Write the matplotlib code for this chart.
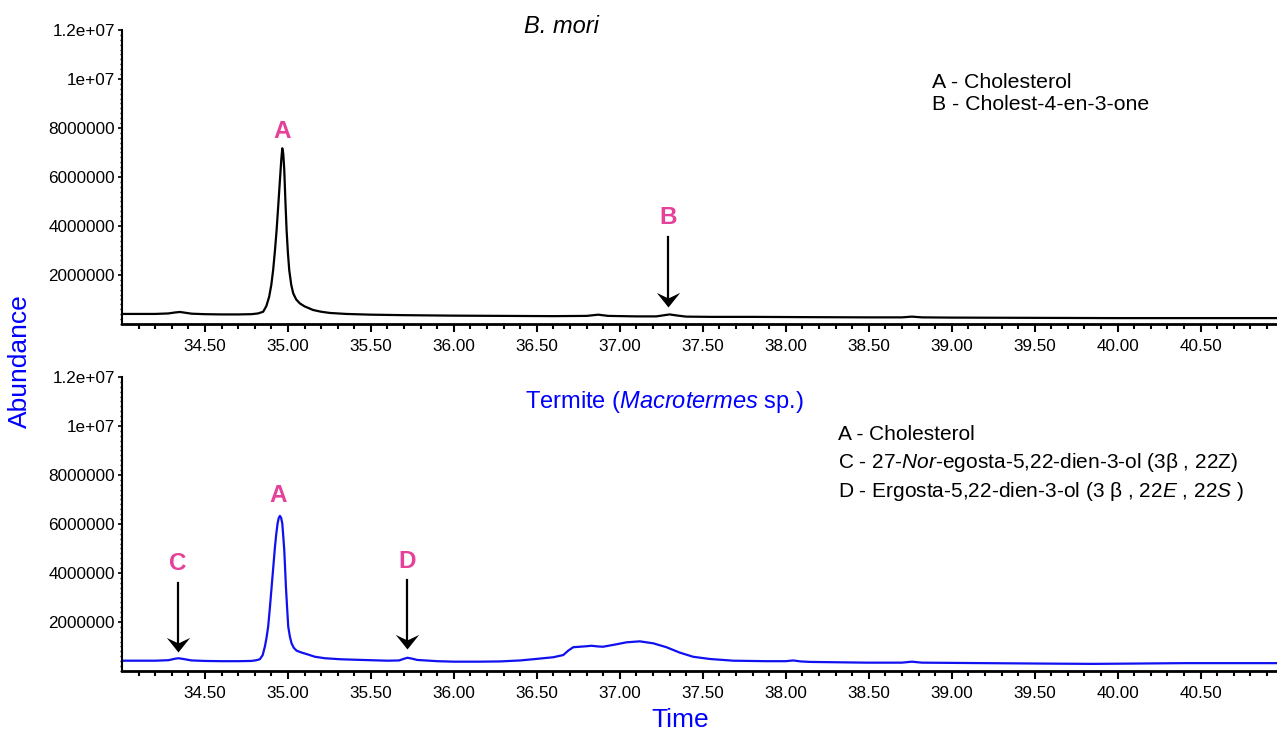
import matplotlib
matplotlib.use("Agg")
import matplotlib.pyplot as plt  # noqa: E402
from matplotlib.path import Path  # noqa: E402
from matplotlib.ticker import FixedLocator, MultipleLocator  # noqa: E402
import numpy as np  # noqa: E402

plt.rcParams["font.family"] = ["Liberation Sans", "DejaVu Sans"]
plt.rcParams["mathtext.fontset"] = "custom"
plt.rcParams["mathtext.rm"] = "Liberation Sans"
plt.rcParams["mathtext.it"] = "Liberation Sans:italic"

# B. mori chromatogram (time in min, abundance)
mori_time = [34.00, 34.10, 34.20, 34.28, 34.32, 34.35, 34.38, 34.42, 34.50, 34.60,
             34.70, 34.78, 34.82, 34.851, 34.870, 34.887, 34.900, 34.911, 34.922,
             34.932, 34.942, 34.952, 34.960, 34.966, 34.972, 34.978, 34.985, 34.992,
             35.000, 35.008, 35.020, 35.032, 35.050, 35.072, 35.10, 35.152, 35.20,
             35.253, 35.35, 35.50, 35.70, 36.00, 36.30, 36.60, 36.80, 36.87, 36.93,
             37.10, 37.22, 37.27, 37.30, 37.34, 37.40, 37.55, 37.80, 38.10, 38.50,
             38.70, 38.76, 38.82, 39.00, 39.50, 40.00, 40.50, 40.96]
mori_abund = [4.1e5, 4.1e5, 4.1e5, 4.3e5, 4.7e5, 4.9e5, 4.6e5, 4.2e5, 4.0e5, 3.9e5,
              3.9e5, 4.0e5, 4.3e5, 5.0e5, 7.3e5, 1.11e6, 1.6e6, 2.2e6, 3.0e6,
              3.84e6, 4.85e6, 5.88e6, 6.7e6, 7.17e6, 6.95e6, 6.29e6, 5.0e6, 3.84e6,
              2.9e6, 2.2e6, 1.6e6, 1.25e6, 1.0e6, 8.4e5, 7.2e5, 5.7e5, 5.0e5,
              4.5e5, 4.1e5, 3.8e5, 3.6e5, 3.4e5, 3.3e5, 3.2e5, 3.3e5, 3.8e5, 3.3e5,
              3.1e5, 3.1e5, 3.6e5, 3.9e5, 3.5e5, 3.0e5, 2.9e5, 2.9e5, 2.8e5, 2.7e5,
              2.7e5, 3.0e5, 2.7e5, 2.6e5, 2.5e5, 2.4e5, 2.4e5, 2.4e5]

# Termite (Macrotermes sp.) chromatogram
termite_time = [34.00, 34.10, 34.20, 34.28, 34.32, 34.34, 34.37, 34.42, 34.50, 34.60,
                34.70, 34.78, 34.81, 34.831, 34.848, 34.861, 34.871, 34.881, 34.891,
                34.902, 34.912, 34.922, 34.930, 34.938, 34.945, 34.952, 34.959, 34.966,
                34.972, 34.978, 34.983, 34.988, 34.995, 35.002, 35.012, 35.022, 35.035,
                35.052, 35.083, 35.113, 35.163, 35.223, 35.313, 35.40, 35.50, 35.60,
                35.67, 35.70, 35.72, 35.75, 35.78, 35.90, 36.00, 36.15, 36.277, 36.40,
                36.478, 36.598, 36.659, 36.689, 36.719, 36.759, 36.80, 36.829, 36.87,
                36.899, 36.94, 36.980, 37.040, 37.120, 37.201, 37.281, 37.361, 37.442,
                37.542, 37.683, 37.884, 38.00, 38.044, 38.09, 38.145, 38.486, 38.70,
                38.76, 38.82, 39.20, 39.60, 39.85, 40.05, 40.40, 40.96]
termite_abund = [4.2e5, 4.2e5, 4.2e5, 4.4e5, 5.0e5, 5.2e5, 4.9e5, 4.3e5, 4.1e5, 4.0e5,
                 4.0e5, 4.1e5, 4.4e5, 4.8e5, 6.5e5, 9.9e5, 1.35e6, 1.81e6, 2.55e6,
                 3.44e6, 4.25e6, 5.07e6, 5.6e6, 6.03e6, 6.25e6, 6.33e6, 6.25e6, 6.03e6,
                 5.5e6, 4.94e6, 4.2e6, 3.44e6, 2.6e6, 1.81e6, 1.4e6, 1.13e6, 9.5e5,
                 8.3e5, 7.5e5, 6.9e5, 5.8e5, 5.2e5, 4.8e5, 4.6e5, 4.4e5, 4.2e5,
                 4.3e5, 5.0e5, 5.4e5, 5.0e5, 4.5e5, 4.0e5, 3.8e5, 3.8e5, 3.9e5, 4.3e5,
                 4.8e5, 5.6e5, 6.5e5, 8.3e5, 9.7e5, 9.9e5, 1.01e6, 1.03e6, 1.0e6,
                 9.9e5, 1.04e6, 1.09e6, 1.17e6, 1.21e6, 1.13e6, 9.7e5, 7.5e5, 5.8e5,
                 4.9e5, 4.2e5, 4.0e5, 4.0e5, 4.3e5, 3.9e5, 3.7e5, 3.4e5, 3.4e5,
                 3.8e5, 3.4e5, 3.2e5, 3.0e5, 2.9e5, 3.0e5, 3.2e5, 3.2e5]

# peak labels: letter, time, label bottom, arrow start, arrow tip (None = no arrow)
mori_peaks = [("A", 34.966, 7.38e6, None, None),
              ("B", 37.29, 3.88e6, 3.55e6, 7.0e5)]
termite_peaks = [("C", 34.339, 3.92e6, 3.6e6, 7.9e5),
                 ("A", 34.942, 6.7e6, None, None),
                 ("D", 35.719, 3.99e6, 3.71e6, 8.9e5)]

mori_legend = ["A - Cholesterol", "B - Cholest-4-en-3-one"]
termite_legend = ["A - Cholesterol",
                  r"C - 27-$\it{Nor}$-egosta-5,22-dien-3-ol (3β , 22Z)",
                  r"D - Ergosta-5,22-dien-3-ol (3 β , 22$\it{E}$ , 22$\it{S}$ )"]

x_major = [34.5, 35.0, 35.5, 36.0, 36.5, 37.0, 37.5, 38.0, 38.5, 39.0, 39.5, 40.0, 40.5]
y_major = [2e6, 4e6, 6e6, 8e6, 1e7, 1.2e7]
y_labels = ["2000000", "4000000", "6000000", "8000000", "1e+07", "1.2e+07"]

PINK = "#E5409A"
# arrow head with a swept-back notch, tip at the origin pointing down
HEAD = Path([(0, 0), (-0.8, 1.0), (0, 0.62), (0.8, 1.0), (0, 0)],
            [Path.MOVETO, Path.LINETO, Path.LINETO, Path.LINETO, Path.CLOSEPOLY])


def style_axis(ax):
    ax.set_xlim(34.0, 40.96)
    ax.set_ylim(0, 1.2e7)
    ax.spines["top"].set_visible(False)
    ax.spines["right"].set_visible(False)
    ax.spines["bottom"].set_linewidth(2.0)
    ax.spines["left"].set_linewidth(1.5)
    ax.set_xticks(x_major)
    ax.set_xticklabels([f"{v:.2f}" for v in x_major])
    minor = [round(v, 1) for v in np.arange(34.1, 40.95, 0.1)]
    ax.xaxis.set_minor_locator(FixedLocator([v for v in minor if v not in x_major]))
    ax.set_yticks(y_major)
    ax.set_yticklabels(y_labels)
    ax.yaxis.set_minor_locator(MultipleLocator(2e5))
    ax.tick_params(axis="x", which="major", length=6, width=1.5, pad=5, labelsize=12.3)
    ax.tick_params(axis="x", which="minor", length=3.5, width=1.5)
    ax.tick_params(axis="y", which="major", length=3, width=1.2, pad=2, labelsize=12.3)
    ax.tick_params(axis="y", which="minor", length=1.5, width=1)


def draw_peaks(ax, peaks):
    for letter, t, ylab, y0, y1 in peaks:
        ax.text(t, ylab, letter, color=PINK, fontsize=17.5, fontweight="bold",
                ha="center", va="bottom")
        if y0 is not None:
            ax.plot([t, t], [y0, y1 + 3e5], color="black", lw=1.6)
            ax.plot([t], [y1], marker=HEAD, markersize=21, color="black",
                    markeredgewidth=0)


fig = plt.figure(figsize=(12.77, 7.31), dpi=100)
ax_top = fig.add_axes([0.0955, 0.5568, 0.9045, 0.4022])
ax_bot = fig.add_axes([0.0955, 0.0821, 0.9045, 0.4022])

ax_top.plot(mori_time, mori_abund, color="black", lw=1.6)
ax_bot.plot(termite_time, termite_abund, color="#1010F0", lw=1.6)
for ax in (ax_top, ax_bot):
    style_axis(ax)
draw_peaks(ax_top, mori_peaks)
draw_peaks(ax_bot, termite_peaks)

# titles and compound keys
fig.text(0.4399, 0.9544, "B. mori", fontsize=17, style="italic", ha="center", va="baseline")
fig.text(0.5207, 0.4414, r"Termite ($\it{Macrotermes}$ sp.)", fontsize=17, color="blue",
         ha="center", va="baseline")
for i, line in enumerate(mori_legend):
    fig.text(0.7298, 0.8791 - i * 0.0296, line, fontsize=15.3, va="baseline")
for i, line in enumerate(termite_legend):
    fig.text(0.6562, 0.3985 - i * 0.0392, line, fontsize=15, va="baseline")

fig.text(0.0157, 0.506, "Abundance", fontsize=19, color="blue", rotation=90,
         ha="center", va="center")
fig.text(0.533, 0.015, "Time", fontsize=19, color="blue", ha="center", va="center")

fig.savefig("out.png", dpi=100)
plt.close(fig)
